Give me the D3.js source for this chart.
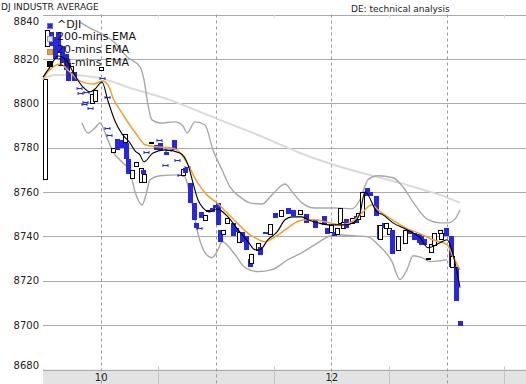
<!DOCTYPE html>
<html><head><meta charset="utf-8">
<script src="https://cdn.jsdelivr.net/npm/d3@7"></script>
<style>body{margin:0;background:#fff}svg{display:block}text{font-family:"DejaVu Sans",Verdana,sans-serif}</style>
</head><body><svg id="c" width="526" height="384"></svg>
<script>
// ---------- data ----------
const yTicks = [8680, 8700, 8720, 8740, 8760, 8780, 8800, 8820, 8840];
const dayTicks = [10, 11, 12, 13];
const dayLabels = ["10", "", "12", ""];
const halfDayTicks = [10.5, 11.5, 12.5, 13.5];
const title = "DJ INDUSTR AVERAGE";
const subtitle = "DE: technical analysis";
const legendNames = ["^DJI", "200-mins EMA", "20-mins EMA", "10-mins EMA"];

// candle time (day number), open, close
const candleT = [9.517,9.535,9.569,9.608,9.630,9.665,9.699,9.717,9.743,9.773,
 9.808,9.821,9.856,9.864,9.877,9.908,9.929,9.955,10.007,10.016,
 10.051,10.059,10.072,10.103,10.111,10.146,10.181,10.207,10.224,10.237,
 10.272,10.307,10.346,10.363,10.380,10.389,10.437,10.480,10.506,10.519,
 10.558,10.571,10.588,10.640,10.662,10.688,10.710,10.732,10.745,10.779,
 10.810,10.823,10.857,10.870,10.909,10.927,10.966,10.992,11.018,11.039,
 11.057,11.100,11.144,11.174,11.196,11.230,11.261,11.291,11.308,11.365,
 11.378,11.425,11.473,11.508,11.564,11.625,11.668,11.729,11.781,11.859,
 11.941,11.967,11.994,12.028,12.054,12.080,12.106,12.132,12.184,12.215,
 12.236,12.271,12.306,12.340,12.384,12.410,12.427,12.458,12.471,12.505,
 12.531,12.575,12.640,12.679,12.718,12.757,12.778,12.804,12.843,12.861,
 12.891,12.939,12.952,12.991,13.035,13.044,13.078,13.113];
const candleO = [8766,8826,8832,8830,8832,8826,8822,8818,8814,8814,
 8807,8804.5,8799.5,8800.5,8805,8798,8800,8801,8815,8811.5,
 8803,8789,8785.5,8780,8778,8784,8783.5,8782.5,8782,8775,
 8766.5,8771.5,8764.5,8770,8764.5,8778,8782,8781,8783.5,8782,
 8772,8778,8779,8783.5,8774.5,8767.5,8767.5,8771,8771.3,8764,
 8755,8746,8744,8751,8747.5,8751.4,8753,8754,8755,8743,
 8741,8746,8746,8744,8737.5,8742,8740,8730,8728,8734,
 8735,8742,8741,8750.5,8749,8753,8752,8750,8750,8747.5,
 8749,8744,8742,8742,8741,8746,8744,8748,8746,8749,
 8748,8749,8762,8760,8758,8745,8739,8746,8744,8741,
 8743,8734,8737,8743,8741.5,8741,8740,8739,8729.8,8733,
 8736,8741.5,8739,8744,8740,8726,8726,8702];
const candleC = [8811,8833,8826,8820,8823,8818,8815,8810,8817,8810,
 8807,8804.5,8799.5,8800.5,8805,8798,8804,8806,8816.5,8811.5,
 8803,8789,8785.5,8778,8780,8779,8780,8786,8775,8768,
 8770,8773.5,8771,8768,8768,8778,8782.4,8779,8783.5,8779,
 8772,8776.5,8779,8779,8774.5,8767.5,8770.5,8768.5,8771.3,8755,
 8747.5,8744,8744,8748.3,8749.7,8751.8,8751,8753,8745,8737.5,
 8743,8748.3,8740,8742,8742,8737.5,8734,8726,8732,8737,
 8731.5,8741,8745.5,8748.3,8752,8750,8749,8752,8746,8744,
 8745,8741,8745,8740,8744,8753,8746.5,8744,8748.3,8746,
 8750.5,8760,8758,8758,8749,8739,8745,8744,8746,8744,
 8732,8740,8743,8741,8738.5,8737,8736,8736,8730.2,8736.5,
 8741.5,8743,8741.5,8740,8726,8731,8711,8699.5];

// indicator lines: [day, value]
const ema200 = [[9.500,8810.9],[9.604,8812.7],[9.734,8812.7],[9.864,8812.3],[9.994,8811.4],[10.255,8806.9],[10.601,8801.5],[10.862,8796.1],[11.122,8790.7],[11.425,8784.4],[11.729,8777.6],[12.076,8771.4],[12.362,8767.3],[12.596,8764.1],[12.796,8761.0],[12.943,8758.7],[13.117,8755.1]];
const bandUpper = [[9.821,8836.6],[9.908,8833.9],[9.994,8831.7],[10.124,8827.2],[10.229,8820.9],[10.341,8816.4],[10.376,8810.5],[10.411,8799.2],[10.445,8792.5],[10.515,8791.1],[10.645,8791.6],[10.714,8789.8],[10.749,8786.6],[10.818,8791.6],[10.905,8790.2],[10.974,8779.0],[11.052,8770.0],[11.122,8762.3],[11.208,8757.8],[11.295,8755.1],[11.399,8754.6],[11.486,8758.7],[11.599,8763.6],[11.668,8759.6],[11.746,8755.1],[11.859,8752.8],[12.032,8752.8],[12.180,8752.4],[12.249,8756.5],[12.319,8765.5],[12.405,8767.3],[12.536,8766.4],[12.614,8762.8],[12.726,8754.2],[12.839,8747.5],[12.943,8746.1],[13.013,8746.1],[13.074,8747.9],[13.117,8751.9]];
const bandLower = [[9.838,8791.1],[9.890,8786.6],[9.951,8788.9],[9.994,8791.1],[10.055,8784.4],[10.107,8778.1],[10.194,8773.1],[10.255,8769.1],[10.298,8760.1],[10.359,8754.2],[10.393,8758.7],[10.428,8765.5],[10.515,8767.3],[10.671,8767.7],[10.714,8767.7],[10.792,8755.1],[10.836,8743.0],[10.905,8732.7],[10.966,8730.4],[11.018,8734.0],[11.052,8737.6],[11.165,8731.8],[11.252,8725.9],[11.365,8724.1],[11.486,8725.0],[11.625,8729.5],[11.746,8732.7],[11.859,8736.3],[12.032,8740.7],[12.206,8740.2],[12.319,8739.8],[12.405,8736.3],[12.527,8728.6],[12.596,8720.5],[12.657,8725.0],[12.709,8731.3],[12.787,8730.4],[12.857,8728.6],[12.943,8729.0],[13.004,8729.5]];
const ema20 = [[9.500,8810.5],[9.517,8812.3],[9.587,8816.4],[9.647,8817.7],[9.734,8814.1],[9.821,8810.0],[9.934,8808.7],[10.020,8810.0],[10.081,8806.4],[10.107,8802.4],[10.168,8797.0],[10.229,8792.0],[10.315,8785.7],[10.385,8781.3],[10.489,8780.4],[10.601,8779.9],[10.662,8779.0],[10.749,8773.1],[10.836,8764.6],[10.922,8758.7],[11.009,8755.1],[11.096,8750.6],[11.183,8746.1],[11.295,8740.7],[11.339,8739.4],[11.425,8737.6],[11.512,8739.8],[11.599,8742.9],[11.686,8746.1],[11.772,8747.5],[11.859,8747.5],[11.946,8746.6],[12.093,8745.2],[12.180,8746.6],[12.267,8750.6],[12.353,8754.2],[12.405,8752.0],[12.527,8747.5],[12.640,8743.9],[12.752,8741.6],[12.882,8738.5],[13.004,8736.3],[13.056,8730.9],[13.117,8725.0]];
const ema10 = [[9.500,8811.8],[9.561,8816.4],[9.630,8821.3],[9.708,8819.1],[9.760,8814.1],[9.847,8807.3],[9.908,8805.1],[9.951,8806.4],[10.012,8809.6],[10.064,8801.0],[10.124,8792.0],[10.185,8786.2],[10.255,8782.1],[10.298,8778.5],[10.341,8776.7],[10.376,8773.6],[10.454,8777.6],[10.558,8779.0],[10.688,8777.6],[10.758,8772.2],[10.801,8764.1],[10.844,8756.5],[10.888,8752.8],[10.948,8751.0],[11.009,8752.4],[11.104,8748.8],[11.191,8743.0],[11.278,8737.6],[11.339,8734.0],[11.382,8734.0],[11.451,8738.5],[11.530,8742.0],[11.599,8747.5],[11.660,8748.8],[11.746,8748.8],[11.798,8747.5],[11.885,8746.1],[11.972,8745.2],[12.119,8745.2],[12.206,8746.6],[12.249,8750.6],[12.293,8760.1],[12.397,8751.0],[12.449,8749.7],[12.536,8746.1],[12.657,8743.0],[12.770,8739.4],[12.839,8734.9],[12.943,8737.1],[13.004,8738.5],[13.056,8731.8],[13.117,8716.9]];

// ---------- chart ----------
const W = 526, H = 384, L = 43, T = 14.5, B = 369.5;
const BLUE = "#2626e6", ORANGE = "#f2a02a", BAND = "#a8a8a8", E200 = "#dadada";
const svg = d3.select("#c");
const x = d3.scaleLinear().domain([9.5, 9.5 + (W - L) / 115.3]).range([L, W]);
const y = d3.scaleLinear().domain([8680, 8840]).range([B, T]);

// x band
svg.append("rect").attr("x", L).attr("y", B).attr("width", W - L).attr("height", H - B).attr("fill", "#e3e3e3");

// y axis with gridlines
const ya = svg.append("g").attr("transform", `translate(${L},0)`)
  .call(d3.axisLeft(y).tickValues(yTicks).tickFormat(d3.format("d")).tickSizeInner(-(W - L)).tickSizeOuter(0).tickPadding(4));
ya.select(".domain").remove();
ya.selectAll(".tick line").attr("stroke", "#aaaaaa").attr("shape-rendering", "crispEdges");
ya.selectAll(".tick text").attr("font-size", "10px").attr("fill", "#222")
  .attr("font-family", "'DejaVu Sans',Verdana,sans-serif")
  .attr("y", d => { const p = y(d); return Math.min(Math.max(p, 21.5), 365) - p; });

// vertical dashed day lines
svg.append("g").selectAll("line").data(dayTicks).join("line")
  .attr("x1", d => Math.round(x(d)) + 0.5).attr("x2", d => Math.round(x(d)) + 0.5)
  .attr("y1", T).attr("y2", H).attr("stroke", "#9a9a9a").attr("stroke-dasharray", "3,3");
// half-day ticks
svg.append("g").selectAll("line").data(halfDayTicks).join("line")
  .attr("x1", d => Math.round(x(d)) + 0.5).attr("x2", d => Math.round(x(d)) + 0.5)
  .attr("y1", B - 3).attr("y2", H).attr("stroke", "#c4c4c4");
svg.append("g").selectAll("line").data(halfDayTicks).join("line")
  .attr("x1", d => Math.round(x(d)) + 0.5).attr("x2", d => Math.round(x(d)) + 0.5)
  .attr("y1", T).attr("y2", T + 4).attr("stroke", "#e2e2e2");

// x axis labels
const xa = svg.append("g").attr("transform", `translate(0,${B})`)
  .call(d3.axisBottom(x).tickValues(dayTicks).tickFormat((d, i) => dayLabels[i]).tickSize(0).tickPadding(4));
xa.select(".domain").remove();
xa.selectAll(".tick text").attr("font-size", "10px").attr("fill", "#222")
  .attr("font-family", "'DejaVu Sans',Verdana,sans-serif");

// lines
const line = d3.line().x(d => x(d[0])).y(d => y(d[1])).curve(d3.curveMonotoneX);
svg.append("path").attr("d", line(ema200)).attr("fill", "none").attr("stroke", E200).attr("stroke-width", 2);
svg.append("path").attr("d", line(bandUpper)).attr("fill", "none").attr("stroke", BAND).attr("stroke-width", 1.4);
svg.append("path").attr("d", line(bandLower)).attr("fill", "none").attr("stroke", BAND).attr("stroke-width", 1.4);

// candles
const candles = candleT.map((t, i) => ({ t, o: candleO[i], c: candleC[i] }));
const cg = svg.append("g");
candles.forEach(d => {
  const cx = Math.round(x(d.t));
  if (d.o === d.c) {
    const py = Math.round(y(d.o)) + 0.5;
    cg.append("path").attr("d", `M${cx - 2},${py - 1.5}v3M${cx - 2},${py}h5M${cx + 3},${py - 1.5}v3`)
      .attr("stroke", BLUE).attr("fill", "none").attr("stroke-width", 1);
  } else if (d.c > d.o) {
    const y0 = Math.round(y(d.c)), y1 = Math.round(y(d.o));
    cg.append("rect").attr("x", cx - 1.5).attr("y", y0 + 0.5).attr("width", 4).attr("height", Math.max(1, y1 - y0))
      .attr("fill", "#fff").attr("stroke", "#000").attr("stroke-width", 1);
  } else {
    const y0 = Math.round(y(d.o)), y1 = Math.round(y(d.c));
    cg.append("rect").attr("x", cx - 2).attr("y", y0).attr("width", 5).attr("height", Math.max(2, y1 - y0))
      .attr("fill", BLUE);
  }
});

svg.append("path").attr("d", line(ema20)).attr("fill", "none").attr("stroke", ORANGE).attr("stroke-width", 1.5);
svg.append("path").attr("d", line(ema10)).attr("fill", "none").attr("stroke", "#000").attr("stroke-width", 1.1);

// titles
svg.append("text").attr("x", 1).attr("y", 9.5).attr("font-size", "9px").attr("fill", "#222").text(title);
svg.append("text").attr("x", 351).attr("y", 11.5).attr("font-size", "9px").attr("fill", "#222").text(subtitle);

// legend
const legFill = [BLUE, "#e4e4e4", ORANGE, "#111"];
const legStroke = ["#6b6bf0", "#9a9a9a", "#d08a20", "#000"];
const lg = svg.append("g");
legendNames.forEach((n, i) => {
  const cy = 26 + i * 12.8;
  lg.append("rect").attr("x", 47.5).attr("y", Math.round(cy - 3) + 0.5).attr("width", 5).attr("height", 5)
    .attr("fill", legFill[i]).attr("stroke", legStroke[i]);
  lg.append("text").attr("x", 57).attr("y", cy + 1.5).attr("font-size", "11px").attr("fill", "#111").text(n);
});
</script></body></html>
